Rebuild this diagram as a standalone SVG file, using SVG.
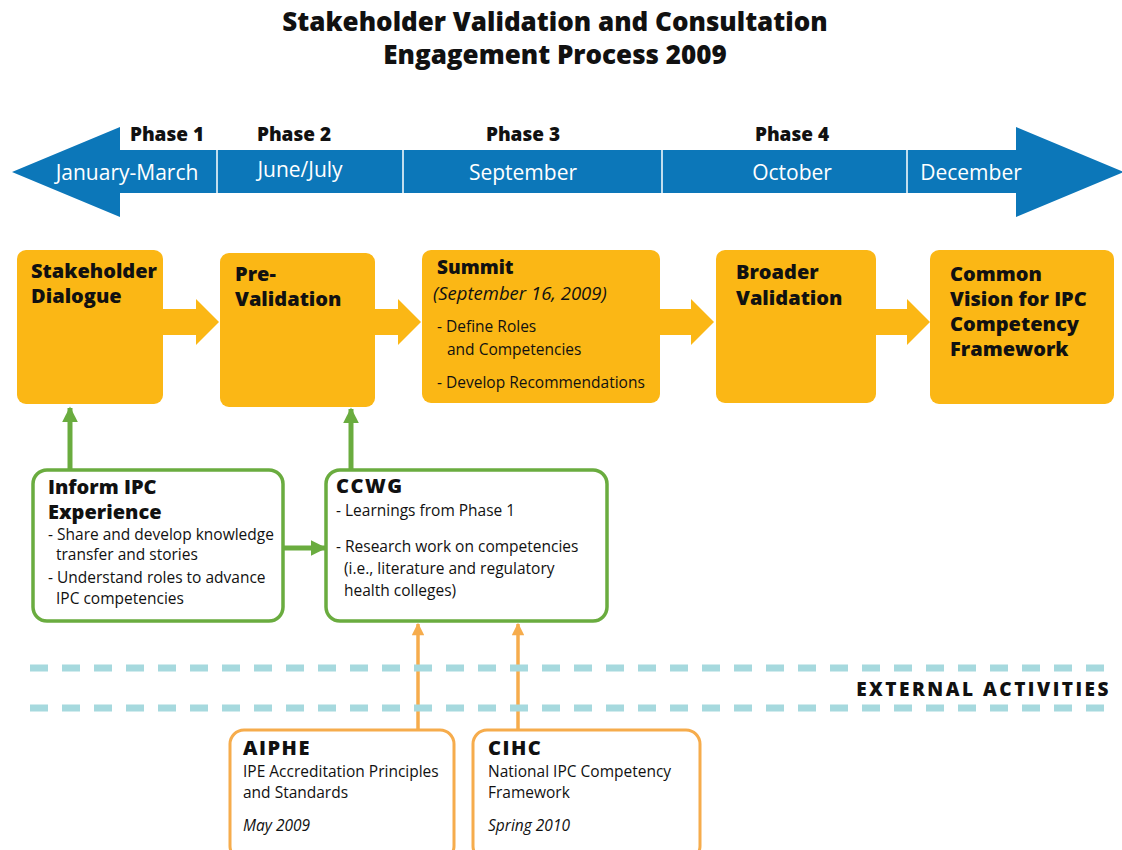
<svg xmlns="http://www.w3.org/2000/svg" width="1122" height="850" viewBox="0 0 1122 850">
<style>
text{font-family:"Open Sans",Lato,"Liberation Sans",sans-serif;fill:#111}
.title{font-size:26px;font-weight:800;text-anchor:middle}
.phase{font-size:19px;font-weight:800;text-anchor:middle}
.month{font-size:21px;fill:#fff;text-anchor:middle;font-weight:400}
.bh{font-size:20px;font-weight:800}
.sub{font-size:19px;font-weight:800}
.cap{font-size:20px;font-weight:800;letter-spacing:1.5px}
.it{font-size:18.5px;font-style:italic;font-weight:400}
.tx{font-size:15.5px;font-weight:400}
.obox{fill:#FBB715}
.gbox{fill:#fff;stroke:#6AAC3F;stroke-width:3.5}
.xbox{fill:#fff;stroke:#F6AC4C;stroke-width:3}
.garrow{stroke:#6AAC3F;stroke-width:5;fill:none}
.oarrow{stroke:#F6AC4C;stroke-width:3.5;fill:none}
.dash{stroke:#A6D9DE;stroke-width:7;stroke-dasharray:18 14;fill:none}
</style>
<defs>
<marker id="gh" viewBox="0 0 10 10" refX="9" refY="5" markerWidth="3.2" markerHeight="3.6" orient="auto" markerUnits="strokeWidth">
<path d="M0,0 L10,5 L0,10 Z" fill="#6AAC3F"/>
</marker>
<marker id="oh" viewBox="0 0 10 10" refX="9" refY="5" markerWidth="4" markerHeight="3.6" orient="auto" markerUnits="strokeWidth">
<path d="M0,0 L10,5 L0,10 Z" fill="#F6AC4C"/>
</marker>
</defs>

<g id="title">
<text class="title" x="555" y="31">Stakeholder Validation and Consultation</text>
<text class="title" x="555" y="64">Engagement Process 2009</text>
</g>

<g id="timeline">
<path d="M12,172 L120,127 L120,150 L1016,150 L1016,127 L1124,172 L1016,217 L1016,193 L120,193 L120,217 Z" fill="#0C77B9"/>
<g stroke="#fff" stroke-width="1.5">
<line x1="217" y1="150" x2="217" y2="193"/>
<line x1="403" y1="150" x2="403" y2="193"/>
<line x1="662" y1="150" x2="662" y2="193"/>
<line x1="907" y1="150" x2="907" y2="193"/>
</g>
<text class="phase" x="167" y="141">Phase 1</text>
<text class="phase" x="294" y="141">Phase 2</text>
<text class="phase" x="523" y="141">Phase 3</text>
<text class="phase" x="792" y="141">Phase 4</text>
<text class="month" x="127" y="180">January-March</text>
<text class="month" x="300" y="177">June/July</text>
<text class="month" x="523" y="180">September</text>
<text class="month" x="792" y="180">October</text>
<text class="month" x="971" y="180">December</text>
</g>

<g id="connectors">
<path class="obox" d="M162,309 L196,309 L196,299 L219,322 L196,345 L196,335 L162,335 Z"/>
<path class="obox" d="M375,309 L398,309 L398,299 L421,322 L398,345 L398,335 L375,335 Z"/>
<path class="obox" d="M660,309 L691,309 L691,299 L714,322 L691,345 L691,335 L660,335 Z"/>
<path class="obox" d="M876,309 L907,309 L907,299 L930,322 L907,345 L907,335 L876,335 Z"/>
<line class="garrow" x1="70" y1="470" x2="70" y2="408" marker-end="url(#gh)"/>
<line class="garrow" x1="351" y1="470" x2="351" y2="409" marker-end="url(#gh)"/>
<line class="garrow" x1="283" y1="548" x2="325" y2="548" marker-end="url(#gh)"/>
<line class="oarrow" x1="418" y1="730" x2="418" y2="624" marker-end="url(#oh)"/>
<line class="oarrow" x1="518" y1="730" x2="518" y2="624" marker-end="url(#oh)"/>
</g>

<g id="stakeholder-dialogue">
<rect class="obox" x="17" y="250" width="146" height="154" rx="9"/>
<text class="bh" x="31" y="278">Stakeholder</text>
<text class="bh" x="31" y="303">Dialogue</text>
</g>
<g id="pre-validation">
<rect class="obox" x="220" y="253" width="155" height="154" rx="9"/>
<text class="bh" x="235" y="281">Pre-</text>
<text class="bh" x="235" y="306">Validation</text>
</g>
<g id="summit">
<rect class="obox" x="422" y="250" width="238" height="153" rx="9"/>
<text class="sub" x="437" y="274">Summit</text>
<text class="it" x="433" y="300">(September 16, 2009)</text>
<text class="tx" x="437" y="332">- Define Roles</text>
<text class="tx" x="447" y="355">and Competencies</text>
<text class="tx" x="437" y="388">- Develop Recommendations</text>
</g>
<g id="broader-validation">
<rect class="obox" x="716" y="250" width="160" height="153" rx="9"/>
<text class="bh" x="736" y="279">Broader</text>
<text class="bh" x="736" y="305">Validation</text>
</g>
<g id="common-vision">
<rect class="obox" x="930" y="250" width="184" height="154" rx="9"/>
<text class="bh" x="950" y="281">Common</text>
<text class="bh" x="950" y="306">Vision for IPC</text>
<text class="bh" x="950" y="331">Competency</text>
<text class="bh" x="950" y="356">Framework</text>
</g>

<g id="inform-ipc">
<rect class="gbox" x="33" y="470" width="250" height="151" rx="14"/>
<text class="bh" x="48" y="494">Inform IPC</text>
<text class="bh" x="48" y="519">Experience</text>
<text class="tx" x="48" y="540">- Share and develop knowledge</text>
<text class="tx" x="56" y="560">transfer and stories</text>
<text class="tx" x="48" y="583">- Understand roles to advance</text>
<text class="tx" x="56" y="604">IPC competencies</text>
</g>
<g id="ccwg">
<rect class="gbox" x="326" y="470" width="281" height="151" rx="14"/>
<text class="cap" x="336" y="493">CCWG</text>
<text class="tx" x="336" y="516">- Learnings from Phase 1</text>
<text class="tx" x="336" y="552">- Research work on competencies</text>
<text class="tx" x="344" y="574">(i.e., literature and regulatory</text>
<text class="tx" x="344" y="596">health colleges)</text>
</g>

<g id="external">
<line class="dash" x1="30" y1="668" x2="1114" y2="668"/>
<line class="dash" x1="30" y1="708" x2="1114" y2="708"/>
<text x="1111" y="696" style="font-size:19px;font-weight:800;letter-spacing:2.5px;text-anchor:end">EXTERNAL ACTIVITIES</text>
</g>

<g id="aiphe">
<rect class="xbox" x="230" y="730" width="224" height="130" rx="14"/>
<text class="cap" x="243" y="755">AIPHE</text>
<text class="tx" x="243" y="777">IPE Accreditation Principles</text>
<text class="tx" x="243" y="798">and Standards</text>
<text class="tx" x="243" y="831" font-style="italic">May 2009</text>
</g>
<g id="cihc">
<rect class="xbox" x="473" y="730" width="227" height="130" rx="14"/>
<text class="cap" x="488" y="755">CIHC</text>
<text class="tx" x="488" y="777">National IPC Competency</text>
<text class="tx" x="488" y="798">Framework</text>
<text class="tx" x="488" y="831" font-style="italic">Spring 2010</text>
</g>
</svg>
